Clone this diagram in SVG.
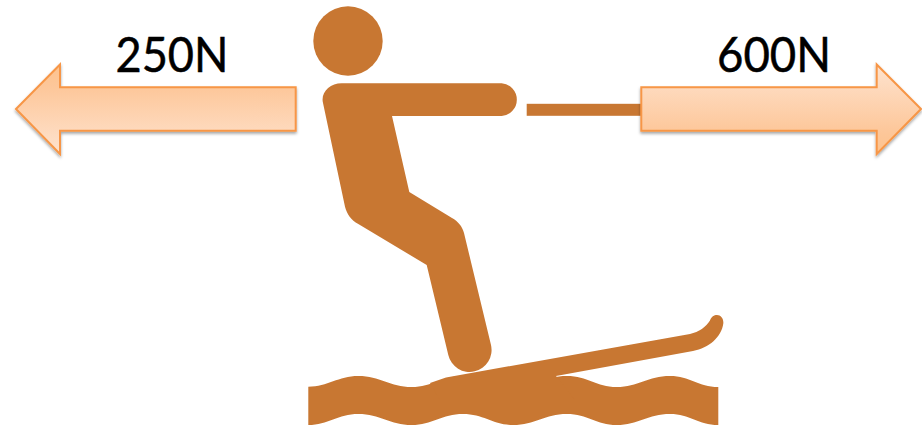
<svg xmlns="http://www.w3.org/2000/svg" width="922" height="426" viewBox="0 0 922 426">
<style>
.fig{fill:#c87732}
.arrow{stroke:#f79646;stroke-width:2;filter:url(#shadow)}
.label{font-family:Lato,"Liberation Sans",sans-serif;font-size:49px;fill:#000;stroke:#000;stroke-width:0.5}
</style>
<defs>
<linearGradient id="gl" x1="0" y1="0" x2="0" y2="1"><stop offset="0" stop-color="#fdc28d"/><stop offset="0.25" stop-color="#fdc79a"/><stop offset="1" stop-color="#fee3cf"/></linearGradient>
<linearGradient id="gr" x1="0" y1="1" x2="0" y2="0"><stop offset="0" stop-color="#fdc28d"/><stop offset="0.25" stop-color="#fdc79a"/><stop offset="1" stop-color="#fee3cf"/></linearGradient>
<filter id="shadow" x="-5%" y="-10%" width="110%" height="125%"><feDropShadow dx="0" dy="2" stdDeviation="1.8" flood-color="#000" flood-opacity="0.35"/></filter>
</defs>
<rect width="922" height="426" fill="#fff"/>
<g id="water"><path class="fig" d="M308.300 386.700C328 386.700 338 376 358.300 376C380 376 390 387 411.700 387C432 387 442 376 463 376C484 376 493 387 513 387C535 387 545 376 566.700 376C588 376 596 387 616.700 387C638 387 648 376 670 376C690 376 698 387 718.300 387V425C698 425 690 414 670 414C648 414 638 425 616.700 425C596 425 588 414 566.700 414C545 414 535 425 513 425C493 425 484 414 463 414C442 414 432 425 411.700 425C390 425 380 414 358.300 414C338 414 328 425 308.300 425Z"/></g>
<g id="ski"><path class="fig" d="M446 377.500L690 334C699 332 706 327 710 320.500C711.500 316.500 714 315 717 315C721 315 723.800 319 723.300 323.500C721.500 337 709 348 693 351L556 376L575 400H440L430 383Z"/></g>
<g id="skier">
<circle class="fig" cx="348" cy="41" r="34.700"/>
<path class="fig" d="M341.700 83.300H501.700A16.400 16.400 0 0 1 501.700 116H392L409.300 192L452 218C458 221.500 462 226 464 233L491 345A21.800 21.800 0 0 1 448.300 355L426.700 265L358.300 224C351 220 347 214 345 206.700L322.800 102C321 92 330 83.300 341.700 83.300Z"/>
</g>
<g id="connectors"><rect class="fig" x="526.700" y="103.800" width="116" height="12"/></g>
<g id="force-left">
<path class="arrow" fill="url(#gl)" d="M16 109L60 64.500V87.300H295.700V130.700H60V154Z"/>
<text class="label" x="115.500" y="72" textLength="113" lengthAdjust="spacingAndGlyphs">250N</text>
</g>
<g id="force-right">
<path class="arrow" fill="url(#gr)" d="M921 109L876.700 64.500V87.300H641.300V130.700H876.700V154Z"/>
<text class="label" x="717" y="72" textLength="114" lengthAdjust="spacingAndGlyphs">600N</text>
</g>
</svg>
